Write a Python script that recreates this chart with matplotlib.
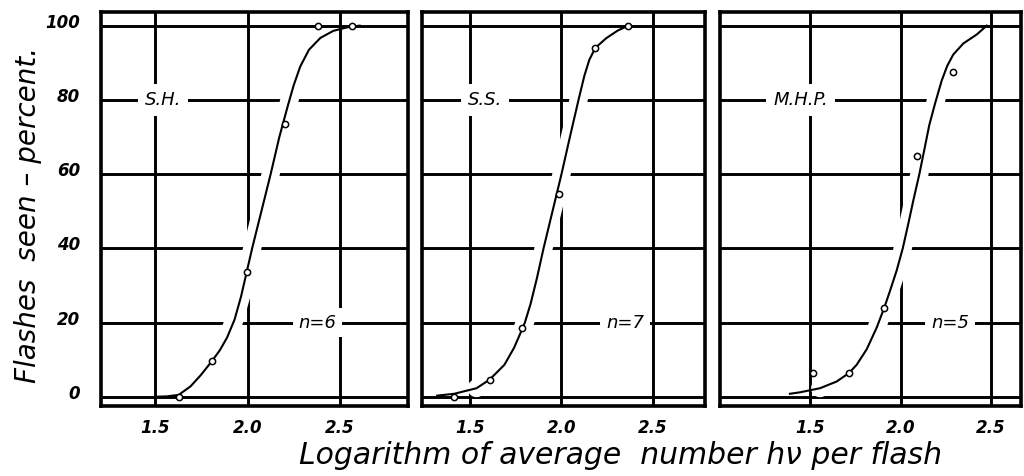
import numpy as np
import matplotlib
matplotlib.use("Agg")
import matplotlib.pyplot as plt
import matplotlib.transforms as mtransforms

# ── Datos ──
# Panel S.H. (n=6)
sh_x = [1.628, 1.806, 1.995, 2.202, 2.379, 2.567]
sh_y = [0.0, 9.5, 33.5, 73.6, 100.0, 100.0]
sh_curva_x = [1.500, 1.564, 1.628, 1.692, 1.747, 1.806, 1.850, 1.890, 1.930,
              1.965, 1.995, 2.025, 2.075, 2.125, 2.172, 2.202, 2.220, 2.250,
              2.285, 2.332, 2.394, 2.464, 2.544, 2.606]
sh_curva_y = [0.0, 0.1, 0.5, 2.8, 5.8, 9.5, 12.5, 16.0, 20.8,
              27.0, 33.5, 40.0, 50.0, 60.0, 70.0, 75.5, 78.8, 84.0,
              89.0, 93.5, 96.7, 98.6, 99.6, 100.0]

# Panel S.S. (n=7)
ss_x = [1.414, 1.607, 1.786, 1.984, 2.185, 2.365]
ss_y = [0.0, 4.6, 18.5, 54.7, 94.0, 100.0]
ss_curva_x = [1.321, 1.414, 1.536, 1.607, 1.688, 1.741, 1.786, 1.800, 1.831,
              1.866, 1.902, 1.951, 2.000, 2.046, 2.093, 2.125, 2.152, 2.185,
              2.244, 2.308, 2.365]
ss_curva_y = [0.3, 0.8, 2.3, 4.6, 8.6, 13.2, 18.3, 20.0, 25.0,
              32.0, 40.0, 50.0, 60.0, 70.0, 80.0, 86.5, 90.8, 94.0,
              96.6, 98.7, 100.0]

# Panel M.H.P. (n=5)
mhp_x = [1.516, 1.714, 1.908, 2.093, 2.292]
mhp_y = [6.4, 6.4, 23.8, 64.8, 87.4]
mhp_curva_x = [1.386, 1.442, 1.553, 1.645, 1.714, 1.756, 1.812, 1.867, 1.908,
               1.941, 1.978, 2.012, 2.043, 2.071, 2.104, 2.130, 2.159, 2.191,
               2.228, 2.259, 2.292, 2.348, 2.422, 2.478]
mhp_curva_y = [0.8, 1.2, 2.3, 4.1, 6.4, 8.6, 12.8, 18.6, 23.8,
               28.5, 34.0, 40.0, 46.7, 53.0, 60.0, 66.2, 73.2, 79.0,
               85.2, 89.2, 92.2, 95.2, 97.6, 100.0]

sujetos = ["S.H.", "S.S.", "M.H.P."]
etiquetas_n = ["n=6", "n=7", "n=5"]
x_ticks = [1.5, 2.0, 2.5]
x_ticklabels = ["1.5", "2.0", "2.5"]
y_ticks = [0, 20, 40, 60, 80, 100]

paneles = [
    (sh_x, sh_y, sh_curva_x, sh_curva_y),
    (ss_x, ss_y, ss_curva_x, ss_curva_y),
    (mhp_x, mhp_y, mhp_curva_x, mhp_curva_y),
]

# posiciones de los ejes (fracción de la figura) y límites en x
posiciones = [
    [0.0986, 0.147, 0.2998, 0.828],
    [0.4121, 0.147, 0.2764, 0.828],
    [0.7031, 0.147, 0.2940, 0.828],
]
limites_x = [(1.208, 2.867), (1.238, 2.784), (0.998, 2.668)]
pos_sujeto = [1.543, 1.581, 1.445]
pos_n = [2.376, 2.347, 2.274]

fig = plt.figure(figsize=(10.24, 4.76), dpi=100)
fig.patch.set_facecolor("white")

fuente_tick = dict(fontsize=12, fontweight="bold", fontstyle="italic")
subir = mtransforms.ScaledTranslation(0, 5 / 100, fig.dpi_scale_trans)

for i, (px, py, cx, cy) in enumerate(paneles):
    ax = fig.add_axes(posiciones[i])
    ax.set_xlim(*limites_x[i])
    ax.set_ylim(-2.5, 103.7)

    # Retícula gruesa, dibujada a mano
    for yv in y_ticks:
        ax.axhline(yv, color="black", lw=2.1, zorder=1)
    for xv in x_ticks:
        ax.axvline(xv, color="black", lw=2.1, zorder=1)

    # Halo blanco que interrumpe la retícula alrededor de la curva
    cx_arr = np.array(cx)
    cy_arr = np.array(cy)
    m = (cy_arr > 2) & (cy_arr < 95)
    ax.plot(cx_arr[m], cy_arr[m], color="white", lw=13,
            solid_capstyle="round", zorder=2)

    ax.plot(cx, cy, color="black", lw=1.5, zorder=3,
            solid_joinstyle="round")
    ax.plot(px, py, linestyle="none", marker="o", ms=4.5,
            mfc="white", mec="black", mew=1.1, zorder=4)

    ax.text(pos_sujeto[i], 80, sujetos[i], fontsize=13, fontstyle="italic",
            ha="center", va="center", zorder=5,
            bbox=dict(facecolor="white", edgecolor="none", pad=5))
    ax.text(pos_n[i], 20, etiquetas_n[i], fontsize=13, fontstyle="italic",
            ha="center", va="center", zorder=5,
            bbox=dict(facecolor="white", edgecolor="none", pad=4))

    for s in ax.spines.values():
        s.set_linewidth(2.6)
        s.set_zorder(6)

    ax.set_xticks(x_ticks)
    ax.set_xticklabels(x_ticklabels, **fuente_tick)
    ax.tick_params(axis="both", length=0, pad=9)
    if i == 0:
        ax.set_yticks(y_ticks)
        ax.set_yticklabels([str(v) for v in y_ticks], **fuente_tick)
        ax.tick_params(axis="y", pad=15)
        for lbl in ax.get_yticklabels():
            lbl.set_transform(lbl.get_transform() + subir)
    else:
        ax.set_yticks([])

fig.text(0.027, 0.548, "Flashes  seen – percent.", rotation=90,
         fontsize=20, fontstyle="italic", ha="center", va="center")
fig.text(0.606, 0.043, "Logarithm of average  number hν per flash",
         fontsize=21.5, fontstyle="italic", ha="center", va="center")

fig.savefig("out.png", dpi=100, facecolor="white")
